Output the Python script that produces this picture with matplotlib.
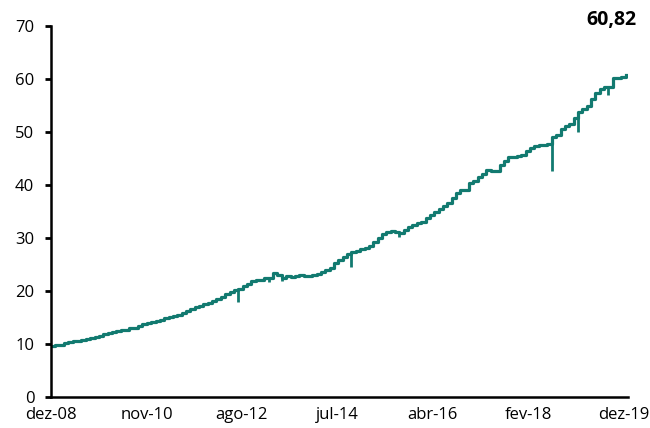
import matplotlib.pyplot as plt
import numpy as np

# monthly values, dez-08 .. dez-19
valores = [9.6, 9.8, 9.9, 10.1, 10.3, 10.6, 10.6, 10.8, 11.0, 11.1,
           11.3, 11.5, 11.8, 12.1, 12.2, 12.4, 12.6, 12.7, 13.0, 13.1,
           13.4, 13.7, 13.9, 14.2, 14.4, 14.6, 14.9, 15.1, 15.3, 15.5,
           15.9, 16.3, 16.6, 16.9, 17.2, 17.5, 17.7, 18.1, 18.5, 18.9,
           19.4, 19.9, 20.2, 20.4, 21.0, 21.4, 21.8, 22.0, 22.1, 22.4,
           22.5, 23.4, 23.0, 22.4, 22.9, 22.6, 22.8, 23.0, 22.8, 22.9,
           23.1, 23.3, 23.6, 24.0, 24.4, 25.2, 25.8, 26.4, 27.0, 27.4,
           27.6, 28.0, 28.2, 28.5, 29.2, 30.0, 30.8, 31.1, 31.3, 31.2,
           31.0, 31.6, 32.1, 32.4, 32.8, 33.1, 33.7, 34.4, 34.9, 35.4,
           36.0, 36.6, 37.5, 38.4, 39.0, 39.1, 40.4, 40.8, 41.5, 42.0,
           42.8, 42.6, 42.6, 43.8, 44.5, 45.2, 45.3, 45.4, 45.7, 46.5,
           47.0, 47.4, 47.6, 47.5, 47.8, 49.1, 49.4, 50.6, 51.2, 51.6,
           52.6, 53.8, 54.4, 54.9, 56.3, 57.4, 58.2, 58.4, 58.4, 60.1,
           60.2, 60.3, 60.82]

# one-day drops (month index, low value)
queda_mes = [43, 50, 53, 69, 80, 115, 121, 128]
queda_min = [17.9, 21.7, 21.8, 24.5, 30.2, 42.7, 50.0, 57.0]

rotulos = ["dez-08", "nov-10", "ago-12", "jul-14", "abr-16", "fev-18", "dez-19"]
ultimo = "60,82"

cor = "#127a70"
plt.rcParams['font.family'] = ['Open Sans', 'DejaVu Sans']

x = np.arange(len(valores))
v = np.array(valores)

fig = plt.figure(figsize=(6.5, 4.28), dpi=100)
ax = fig.add_axes([51 / 650, 1 - 397 / 428, 577 / 650, 371 / 428])

ax.plot(x, v, color=cor, lw=2.3, drawstyle='steps-post')
ax.vlines(queda_mes, queda_min, v[queda_mes], color=cor, lw=2.0)

ax.set_xlim(0, len(valores) - 1 + 0.5)
ax.set_ylim(0, 70)
ax.set_yticks(range(0, 71, 10))
ax.set_xticks(np.linspace(0, len(valores) - 1.5, len(rotulos)))
ax.set_xticklabels(rotulos)

for s in ['top', 'right']:
    ax.spines[s].set_visible(False)
for s in ['left', 'bottom']:
    ax.spines[s].set_linewidth(1.8)
ax.tick_params(axis='y', length=4, width=2, pad=8, labelsize=12)
ax.tick_params(axis='x', length=0, pad=7, labelsize=12)

fig.text(611 / 650, 1 - 20 / 428, ultimo, ha='center', va='center',
         fontsize=14, fontweight='bold')

fig.savefig("out.png", dpi=100)
